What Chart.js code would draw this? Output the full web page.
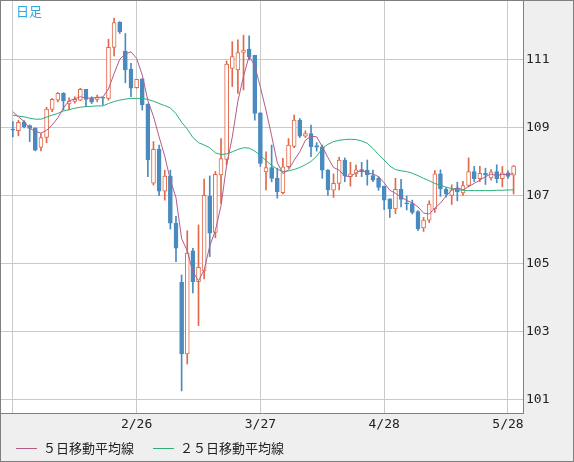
<!DOCTYPE html>
<html>
<head>
<meta charset="utf-8">
<script src="https://cdn.jsdelivr.net/npm/chart.js@4.4.0/dist/chart.umd.min.js"></script>
<style>
  html, body { margin: 0; padding: 0; background: #efefef; }
  #wrap { width: 574px; height: 462px; }
</style>
</head>
<body>
<div id="wrap"><canvas id="chart" width="574" height="462"></canvas></div>
<script>
// daily candles, 2020-01-27 .. 2020-05-29 (index = trading day)
const opens = [108.95,108.90,109.16,109.05,108.97,108.41,108.70,109.53,109.80,110.00,
  109.69,109.76,109.80,110.12,109.85,109.82,109.88,109.85,111.35,112.09,
  111.24,110.71,110.17,110.43,109.68,107.36,108.35,107.12,107.57,106.18,
  104.44,102.34,105.37,104.46,104.78,106.98,105.91,107.60,108.06,110.73,
  110.69,111.20,111.30,111.12,109.43,107.69,107.82,107.50,107.08,107.84,
  108.44,109.21,108.74,108.82,108.46,108.43,107.74,107.15,107.35,108.04,
  107.55,107.63,107.76,107.74,107.58,107.50,107.27,106.90,106.60,107.18,
  106.77,106.76,106.52,106.04,106.27,106.60,107.63,107.18,107.00,107.20,
  107.07,107.29,107.70,107.49,107.65,107.51,107.70,107.49,107.66,107.59];
const highs = [109.17,109.21,109.20,109.07,108.99,108.82,109.59,109.85,110.02,110.02,
  109.87,109.90,110.15,110.12,109.90,109.95,109.88,111.59,112.21,112.11,
  111.76,110.88,110.41,110.43,109.69,108.58,108.48,107.74,107.74,106.38,
  104.66,105.96,105.44,106.13,107.48,107.57,107.70,108.67,110.95,111.52,
  111.57,111.71,111.69,111.12,109.43,108.28,108.48,107.80,108.09,108.67,
  109.36,109.26,108.90,109.07,108.55,108.48,107.76,107.63,108.12,108.10,
  107.97,107.89,107.97,108.04,107.74,107.55,107.27,106.90,107.50,107.47,
  106.98,106.86,106.55,106.35,106.84,107.73,107.75,107.23,107.31,107.39,
  107.41,108.10,107.85,107.85,107.80,107.76,107.90,107.85,107.72,107.88];
const lows = [108.72,108.75,108.98,108.58,108.31,108.31,108.55,109.46,109.75,109.51,
  109.51,109.71,109.78,109.61,109.70,109.75,109.66,109.80,111.10,111.76,
  110.31,109.90,110.15,109.51,107.55,107.30,106.99,106.86,106.01,105.05,
  101.25,102.04,104.13,103.17,104.54,105.20,105.75,106.76,107.90,110.20,
  110.00,110.10,110.98,109.21,107.85,107.16,107.40,106.92,107.04,107.80,
  108.40,108.70,108.70,108.14,108.30,107.50,107.00,106.94,107.16,107.40,
  107.27,107.55,107.55,107.30,107.40,107.15,106.58,106.35,106.46,106.66,
  106.57,106.45,105.96,105.94,106.20,106.50,106.97,106.95,106.73,106.84,
  107.00,107.25,107.40,107.40,107.32,107.45,107.37,107.25,107.50,107.04];
const closes = [108.92,109.15,109.02,108.97,108.33,108.70,109.54,109.82,110.00,109.78,
  109.77,109.82,110.12,109.82,109.75,109.88,109.86,111.35,112.08,111.81,
  110.69,110.15,110.41,109.66,108.04,108.35,107.12,107.57,106.18,105.45,
  102.34,105.30,104.46,104.88,107.00,105.89,107.62,108.08,110.86,111.08,
  111.20,111.27,111.08,109.41,107.94,107.82,107.50,107.11,107.84,108.48,
  109.21,108.74,108.82,108.43,108.42,107.74,107.16,107.35,108.04,107.57,
  107.63,107.75,107.70,107.60,107.45,107.23,106.86,106.60,107.18,106.88,
  106.75,106.50,106.01,106.27,106.74,107.63,107.19,107.05,107.16,107.10,
  107.29,107.70,107.49,107.65,107.60,107.69,107.49,107.66,107.56,107.86];

// moving averages as plotted
const ma5 = [109.46,109.31,109.17,108.97,108.88,108.83,108.91,109.07,109.28,109.57,
  109.78,109.84,109.90,109.86,109.86,109.88,109.89,110.13,110.58,111.00,
  111.16,111.22,111.03,110.54,109.79,109.32,108.72,108.15,107.45,106.93,
  105.73,105.37,104.75,104.49,104.80,105.51,105.97,106.69,107.89,108.71,
  109.77,110.50,111.10,110.81,110.18,109.50,108.75,107.96,107.64,107.75,
  108.03,108.28,108.62,108.74,108.72,108.43,108.11,107.82,107.74,107.57,
  107.55,107.67,107.74,107.65,107.63,107.55,107.37,107.15,107.06,106.95,
  106.85,106.78,106.66,106.48,106.45,106.63,106.77,106.98,107.15,107.23,
  107.16,107.26,107.35,107.45,107.55,107.63,107.58,107.62,107.60,107.65];
const ma25 = [109.36,109.33,109.31,109.27,109.24,109.24,109.30,109.36,109.41,109.48,
  109.52,109.56,109.59,109.61,109.62,109.63,109.63,109.70,109.76,109.80,
  109.83,109.85,109.85,109.85,109.82,109.77,109.70,109.64,109.57,109.40,
  109.15,108.95,108.70,108.55,108.48,108.40,108.25,108.20,108.22,108.28,
  108.35,108.40,108.39,108.30,108.18,108.02,107.88,107.77,107.70,107.72,
  107.76,107.82,107.90,108.00,108.15,108.38,108.50,108.58,108.62,108.64,
  108.65,108.64,108.60,108.53,108.38,108.20,108.04,107.86,107.76,107.72,
  107.70,107.65,107.58,107.50,107.43,107.35,107.30,107.24,107.20,107.17,
  107.15,107.14,107.14,107.14,107.14,107.14,107.15,107.15,107.16,107.16];

const dateTicks = [0, 22, 44, 66, 88];
const dateLabels = ["", "2/26", "3/27", "4/28", "5/28"];
const priceTicks = [101, 103, 105, 107, 109, 111];
const maNames = ["５日移動平均線", "２５日移動平均線"];

const UP = "#e0694a";
const DOWN = "#4a8bbf";
const MA5_COLOR = "#b25c8c";
const MA25_COLOR = "#2cb078";
const GRID = "#cacaca";
const EDGE = "#7f7f7f";
const PANEL = "#efefef";

const isUp = i => closes[i] >= opens[i];
const candleColor = ctx => (isUp(ctx.dataIndex) ? UP : DOWN);

// background, title, legend and outer frame
const framePlugin = {
  id: "frame",
  beforeDraw(chart) {
    const { ctx, chartArea: a, width, height } = chart;
    ctx.save();
    ctx.fillStyle = PANEL;
    ctx.fillRect(0, 0, width, height);
    ctx.fillStyle = "#ffffff";
    ctx.fillRect(a.left, a.top, a.right - a.left, a.bottom - a.top);
    ctx.restore();
  },
  afterDraw(chart) {
    const { ctx, chartArea: a, width, height } = chart;
    ctx.save();
    ctx.font = '13px "Noto Sans CJK JP"';
    ctx.textBaseline = "middle";
    ctx.fillStyle = "#2ea6e0";
    ctx.fillText("日足", a.left + 15, a.top + 10);

    let x = 16;
    const y = 448;
    chart.data.datasets.filter(d => d.type === "line").forEach(d => {
      ctx.strokeStyle = d.borderColor;
      ctx.lineWidth = 1;
      ctx.beginPath();
      ctx.moveTo(x, y + 0.5);
      ctx.lineTo(x + 21, y + 0.5);
      ctx.stroke();
      ctx.fillStyle = "#222222";
      ctx.fillText(d.label, x + 27, y);
      x += 27 + ctx.measureText(d.label).width + 19;
    });

    ctx.strokeStyle = EDGE;
    ctx.lineWidth = 1;
    ctx.strokeRect(0.5, 0.5, width - 1, height - 1);
    ctx.restore();
  }
};

const idx = closes.map((_, i) => i);

new Chart(document.getElementById("chart"), {
  type: "bar",
  data: {
    datasets: [
      {
        type: "line",
        label: maNames[0],
        data: idx.map(i => ({ x: i, y: ma5[i] })),
        borderColor: MA5_COLOR,
        borderWidth: 1,
        pointRadius: 0,
        tension: 0,
        order: 0
      },
      {
        type: "line",
        label: maNames[1],
        data: idx.map(i => ({ x: i, y: ma25[i] })),
        borderColor: MA25_COLOR,
        borderWidth: 1,
        pointRadius: 0,
        tension: 0,
        order: 0
      },
      {
        label: "body",
        data: idx.map(i => ({ x: i, y: [opens[i], closes[i]] })),
        backgroundColor: ctx => (isUp(ctx.dataIndex) ? "#ffffff" : DOWN),
        borderColor: candleColor,
        borderWidth: 1,
        borderSkipped: false,
        barThickness: 4,
        minBarLength: 1,
        grouped: false,
        order: 1
      },
      {
        label: "wick",
        data: idx.map(i => ({ x: i, y: [lows[i], highs[i]] })),
        backgroundColor: candleColor,
        borderWidth: 0,
        barThickness: 1,
        grouped: false,
        order: 2
      }
    ]
  },
  options: {
    responsive: false,
    animation: false,
    layout: { padding: { left: 1, top: 1, right: 1, bottom: 1 } },
    plugins: {
      legend: { display: false },
      tooltip: { enabled: false }
    },
    scales: {
      x: {
        type: "linear",
        position: "bottom",
        min: -2.1,
        max: 90.67,
        offset: false,
        bounds: "data",
        grid: { color: GRID, offset: false, drawTicks: false },
        border: { display: true, color: EDGE },
        afterBuildTicks: s => { s.ticks = dateTicks.map(v => ({ value: v })); },
        afterFit: s => {
          s.height = 48;
          s.paddingLeft = 0;
          s.paddingRight = 0;
        },
        ticks: {
          padding: 4,
          maxRotation: 0,
          autoSkip: false,
          color: "#222222",
          font: { family: "DejaVu Sans Mono", size: 13 },
          callback: v => dateLabels[dateTicks.indexOf(v)] || ""
        }
      },
      y: {
        type: "linear",
        position: "right",
        min: 100.6,
        max: 112.715,
        bounds: "data",
        grid: { color: GRID, drawTicks: false },
        border: { display: true, color: EDGE },
        afterBuildTicks: s => { s.ticks = priceTicks.map(v => ({ value: v })); },
        afterFit: s => {
          s.width = 50;
          s.paddingTop = 0;
          s.paddingBottom = 0;
        },
        ticks: {
          padding: 3,
          color: "#222222",
          font: { family: "DejaVu Sans Mono", size: 13 },
          callback: v => String(v)
        }
      }
    }
  },
  plugins: [framePlugin]
});
</script>
</body>
</html>
